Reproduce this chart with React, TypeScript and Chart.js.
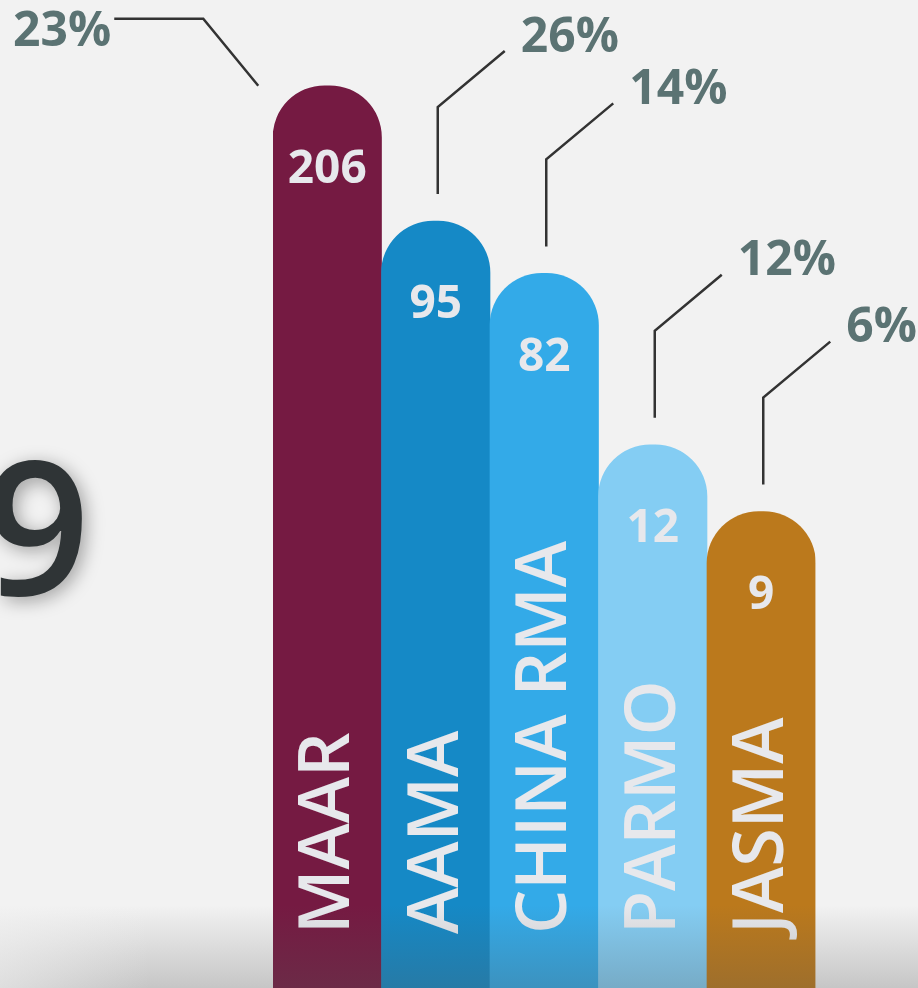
import React, { useEffect, useRef } from "react";
import { Chart, registerables } from "chart.js";

Chart.register(...registerables);

const categories = ["MAAR", "AAMA", "CHINA RMA", "PARMO", "JASMA"];
const counts = [206, 95, 82, 12, 9];
const shares = ["23%", "26%", "14%", "12%", "6%"];
const barHeights = [100, 85, 79.2, 60.2, 52.8];
const barColors = ["#751a42", "#1589c6", "#33aae8", "#84cdf3", "#bb791c"];
const totalLabel = "9";

const FONT = "'Open Sans', 'Noto Sans', sans-serif";

const decor = {
  id: "decor",
  beforeDraw(chart: any) {
    const { ctx, width, height } = chart;
    ctx.save();
    ctx.fillStyle = "#f2f2f2";
    ctx.fillRect(0, 0, width, height);
    ctx.font = `600 186px ${FONT}`;
    ctx.fillStyle = "#2f3436";
    ctx.shadowColor = "rgba(0,0,0,0.35)";
    ctx.shadowBlur = 18;
    ctx.shadowOffsetX = 4;
    ctx.shadowOffsetY = 4;
    ctx.textAlign = "right";
    ctx.textBaseline = "alphabetic";
    ctx.fillText(totalLabel, 90, 595);
    ctx.restore();
  },
  afterDatasetsDraw(chart: any) {
    const { ctx } = chart;
    const meta = chart.getDatasetMeta(0);
    meta.data.forEach((bar: any, i: number) => {
      const { x, y } = bar.getProps(["x", "y"], true);
      ctx.save();
      // value label
      ctx.font = `700 46px ${FONT}`;
      ctx.fillStyle = "#e7e8ec";
      ctx.textAlign = "center";
      ctx.textBaseline = "middle";
      ctx.fillText(String(counts[i]), x, y + 84);
      // category label (vertical)
      ctx.save();
      ctx.translate(x, 934);
      ctx.rotate(-Math.PI / 2);
      ctx.font = `600 70px ${FONT}`;
      ctx.textAlign = "left";
      ctx.textBaseline = "middle";
      ctx.fillText(categories[i], 0, 2);
      ctx.restore();
      // callout
      ctx.strokeStyle = "#333333";
      ctx.lineWidth = 2.5;
      ctx.lineJoin = "miter";
      ctx.font = `700 48px ${FONT}`;
      ctx.fillStyle = "#5b7373";
      ctx.textBaseline = "middle";
      ctx.beginPath();
      if (i === 0) {
        ctx.moveTo(x - 69, y);
        ctx.lineTo(x - 124, y - 67);
        ctx.lineTo(x - 213, y - 67);
        ctx.stroke();
        ctx.textAlign = "right";
        ctx.fillText(shares[i], x - 216, y - 53);
      } else {
        const lx = x + 2;
        ctx.moveTo(lx, y - 27);
        ctx.lineTo(lx, y - 114);
        ctx.lineTo(lx + 67, y - 170);
        ctx.stroke();
        ctx.textAlign = "left";
        ctx.fillText(shares[i], lx + 83, y - 183);
      }
      ctx.restore();
    });
  },
  afterDraw(chart: any) {
    const { ctx, width, height } = chart;
    ctx.save();
    const g = ctx.createLinearGradient(0, 905, 0, height);
    g.addColorStop(0, "rgba(84,84,84,0)");
    g.addColorStop(1, "rgba(84,84,84,0.28)");
    ctx.fillStyle = g;
    ctx.fillRect(0, 905, width, height - 905);
    const h = ctx.createLinearGradient(0, 0, 150, 0);
    h.addColorStop(0, "rgba(242,242,242,0.55)");
    h.addColorStop(1, "rgba(242,242,242,0)");
    ctx.fillStyle = h;
    ctx.fillRect(0, 905, 150, height - 905);
    ctx.restore();
  },
};

export default function App() {
  const ref = useRef<HTMLCanvasElement | null>(null);
  useEffect(() => {
    if (!ref.current) return;
    const chart = new Chart(ref.current, {
      type: "bar",
      data: {
        labels: categories,
        datasets: [
          {
            data: barHeights,
            backgroundColor: barColors,
            borderRadius: { topLeft: 52, topRight: 52, bottomLeft: 0, bottomRight: 0 },
            borderSkipped: "bottom",
            barPercentage: 1,
            categoryPercentage: 1,
            borderWidth: 0,
          },
        ],
      },
      options: {
        responsive: false,
        maintainAspectRatio: false,
        animation: false,
        layout: { padding: { left: 273, right: 102.5, top: 0, bottom: 0 } },
        scales: {
          x: { display: false },
          y: { display: false, min: 0, max: 109.5 },
        },
        plugins: { legend: { display: false }, tooltip: { enabled: false } },
      },
      plugins: [decor],
    } as any);
    return () => chart.destroy();
  }, []);
  return (
    <div style={{ position: "fixed", left: 0, top: 0, width: 918, height: 988, background: "#f2f2f2" }}>
      <canvas ref={ref} width={918} height={988} style={{ display: "block", width: 918, height: 988 }} />
    </div>
  );
}
